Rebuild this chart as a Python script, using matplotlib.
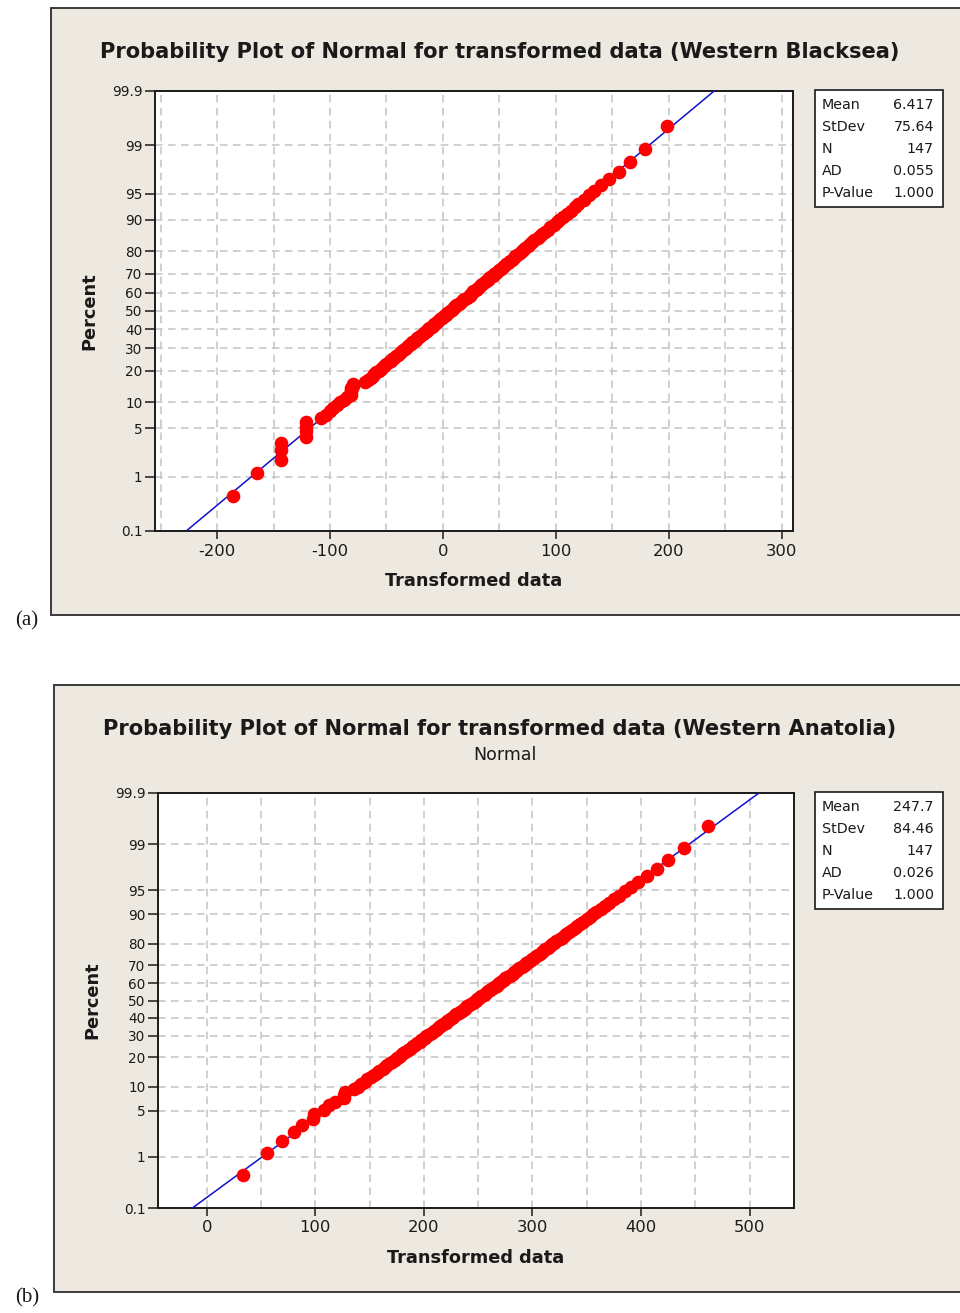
"""Two Minitab-style normal probability plots (Western Blacksea / Western Anatolia)."""

from statistics import NormalDist

import matplotlib
matplotlib.use("Agg")
import matplotlib.pyplot as plt
from matplotlib.patches import Rectangle
from matplotlib.ticker import FixedLocator, MultipleLocator

W, H = 960, 1313
BEIGE = "#EDE9E0"; FRAME = "#3a3a3a"; INK = "#1a1a1a"
GRID = "#c4c4c4"; DOT = "#FF0000"; FIT = "#1010D0"

# percent ticks on the probability axis
PCT_TICKS = [0.1, 1, 5, 10, 20, 30, 40, 50, 60, 70, 80, 90, 95, 99, 99.9]
PCT_LABELS = ["0.1", "1", "5", "10", "20", "30", "40", "50", "60", "70",
              "80", "90", "95", "99", "99.9"]
STAT_NAMES = ["Mean", "StDev", "N", "AD", "P-Value"]

# (a) Western Blacksea, sorted transformed data
WB_DATA = [
    -186, -165, -143, -143, -143, -121, -121, -121, -121, -108,
    -104, -100, -97, -94, -91, -88, -85, -81, -81, -81,
    -81, -80, -80, -69, -66, -64, -62, -61, -59, -57,
    -55, -53, -52, -50, -48, -46, -45, -43, -42, -40,
    -38, -37, -35, -34, -33, -31, -30, -28, -27, -25,
    -24, -23, -21, -20, -18, -17, -16, -14, -13, -12,
    -10, -9, -8, -6, -5, -4, -3, -1, 0, 1,
    3, 4, 5, 6, 8, 9, 10, 12, 12, 14,
    15, 17, 18, 19, 21, 24, 24, 25, 26, 27,
    29, 30, 31, 33, 34, 35, 37, 38, 40, 41,
    42, 44, 45, 47, 48, 50, 51, 53, 54, 56,
    58, 59, 61, 63, 64, 66, 68, 70, 71, 73,
    75, 77, 79, 81, 84, 86, 88, 90, 93, 95,
    98, 101, 103, 106, 110, 113, 117, 120, 125, 129,
    134, 140, 147, 156, 166, 179, 198,
]
WB_STATS = ["6.417", "75.64", "147", "0.055", "1.000"]
WB_MEAN, WB_SD = 6.417, 75.64

# (b) Western Anatolia
WA_DATA = [
    33, 55, 69, 80, 88, 98, 99, 108, 113, 118,
    126, 126, 127, 136, 139, 142, 146, 148, 151, 154,
    157, 159, 162, 164, 166, 169, 171, 173, 175, 177,
    179, 181, 183, 185, 187, 189, 190, 192, 194, 196,
    197, 199, 201, 202, 204, 206, 207, 209, 211, 212,
    214, 215, 217, 218, 220, 221, 223, 224, 226, 227,
    229, 230, 232, 233, 235, 236, 238, 239, 240, 242,
    243, 245, 246, 248, 249, 251, 252, 253, 255, 256,
    258, 259, 261, 262, 264, 265, 267, 268, 269, 271,
    272, 274, 275, 277, 279, 280, 282, 283, 285, 286,
    288, 290, 291, 293, 294, 296, 298, 300, 301, 303,
    305, 307, 309, 310, 312, 314, 316, 318, 320, 322,
    325, 327, 329, 331, 334, 336, 339, 341, 344, 347,
    350, 353, 356, 359, 363, 367, 371, 375, 380, 385,
    391, 397, 406, 415, 425, 440, 462,
]
WA_STATS = ["247.7", "84.46", "147", "0.026", "1.000"]
WA_MEAN, WA_SD = 247.7, 84.46

ND = NormalDist()
plt.rcParams["font.family"] = "DejaVu Sans"
plt.rcParams["axes.unicode_minus"] = False


def fx(x):
    return x / W


def fy(y):
    return 1 - y / H


def rect(l, t, r, b):
    return [fx(l), fy(b), (r - l) / W, (b - t) / H]


def panel(fig, data, mean, sd, stats, title, subtitle, top, left, ax_box,
          xlim, xmin_grid, xmax_grid, tag):
    # beige Minitab background with a frame (right side runs off the page)
    fig.add_artist(Rectangle((fx(left), fy(top + 607)), 1.2, 607 / H,
                             transform=fig.transFigure, facecolor=BEIGE,
                             edgecolor=FRAME, lw=1.4, zorder=0))
    fig.text(fx(27), fy(top + 613), tag, family="Liberation Serif",
             fontsize=15, ha="center", va="center", color=INK)

    l, t, r, b = ax_box
    ax = fig.add_axes(rect(l, t, r, b))
    ax.set_facecolor("white")

    n = len(data)
    probs = [ND.inv_cdf((i + 1 - 0.3) / (n + 0.4)) for i in range(n)]
    zlo, zhi = ND.inv_cdf(0.001), ND.inv_cdf(0.999)

    ax.plot([mean + sd * zlo, mean + sd * zhi], [zlo, zhi], color=FIT,
            lw=1.1, zorder=3)
    ax.plot(data, probs, "o", color=DOT, ms=8.8, mec=DOT, zorder=4)

    ax.set_ylim(zlo, zhi)
    ax.set_xlim(*xlim)
    ax.yaxis.set_major_locator(FixedLocator([ND.inv_cdf(p / 100) for p in PCT_TICKS]))
    ax.set_yticklabels(PCT_LABELS)
    ax.xaxis.set_major_locator(MultipleLocator(100))
    ax.xaxis.set_minor_locator(FixedLocator(list(range(xmin_grid, xmax_grid + 1, 50))))

    dash = dict(color=GRID, ls=(0, (5, 3.5)), lw=1.1)
    ax.grid(True, which="major", axis="y", **dash)
    ax.grid(True, which="both", axis="x", **dash)
    ax.set_axisbelow(True)

    ax.tick_params(axis="x", which="major", length=6, width=1.1, colors=INK,
                   labelsize=11.8, pad=3)
    ax.tick_params(axis="x", which="minor", length=0)
    ax.tick_params(axis="y", length=7, width=1.1, colors=INK, labelsize=9.8, pad=2)
    for s in ax.spines.values():
        s.set_linewidth(1.4); s.set_color(INK)

    ax.set_xlabel("Transformed data", fontsize=12.8, fontweight="bold",
                  color=INK, labelpad=10)
    ax.set_ylabel("Percent", fontsize=12.8, fontweight="bold", color=INK,
                  labelpad=10)

    fig.text(fx(500), fy(top + 44), title, fontsize=15.1, fontweight="bold",
             ha="center", va="center", color=INK)
    if subtitle:
        fig.text(fx(505), fy(top + 70), subtitle, fontsize=12.5, ha="center",
                 va="center", color=INK)

    # stats box
    bt = t - 1
    fig.add_artist(Rectangle((fx(815), fy(bt + 117)), 128 / W, 117 / H,
                             transform=fig.transFigure, facecolor="white",
                             edgecolor=INK, lw=1.2, zorder=2))
    for k, (name, val) in enumerate(zip(STAT_NAMES, stats)):
        y = bt + 15 + 22 * k
        fig.text(fx(822), fy(y), name, fontsize=10.3, va="center", color=INK, zorder=3)
        fig.text(fx(934), fy(y), val, fontsize=10.3, va="center", ha="right",
                 color=INK, zorder=3)
    return ax


def main():
    fig = plt.figure(figsize=(W / 100, H / 100), dpi=100)
    fig.patch.set_facecolor("white")

    panel(fig, WB_DATA, WB_MEAN, WB_SD, WB_STATS,
          "Probability Plot of Normal for transformed data (Western Blacksea)",
          None, top=8, left=51, ax_box=(155, 91, 793, 531),
          xlim=(-255, 310), xmin_grid=-250, xmax_grid=300, tag="(a)")
    panel(fig, WA_DATA, WA_MEAN, WA_SD, WA_STATS,
          "Probability Plot of Normal for transformed data (Western Anatolia)",
          "Normal", top=685, left=54, ax_box=(158, 793, 794, 1208),
          xlim=(-45, 541), xmin_grid=0, xmax_grid=500, tag="(b)")

    fig.savefig("out.png", dpi=100, facecolor="white")


if __name__ == "__main__":
    main()
